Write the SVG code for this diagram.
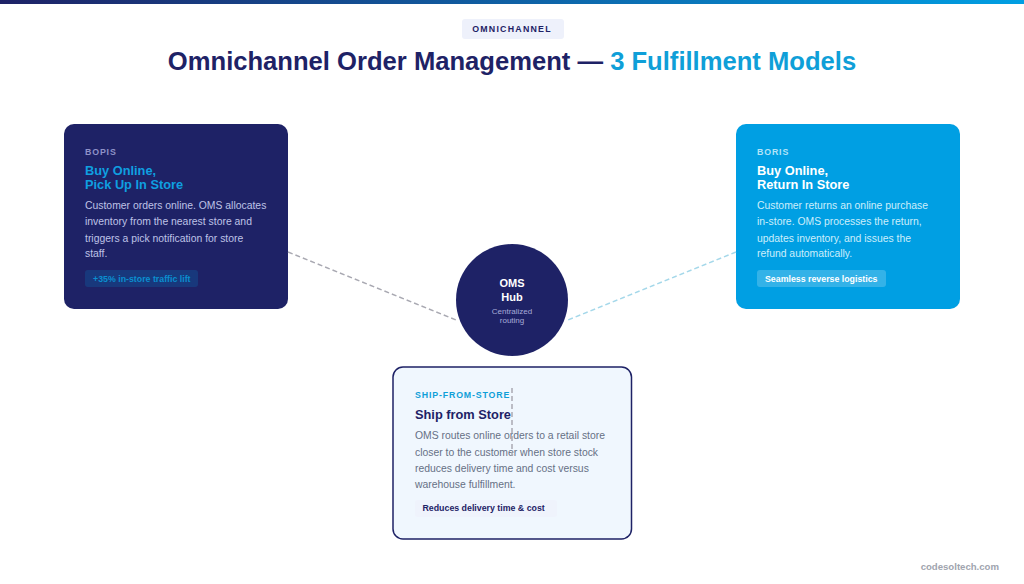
<svg xmlns="http://www.w3.org/2000/svg" width="1024" height="584" viewBox="0 0 1024 584">
<style>
text{font-family:"Liberation Sans",Arial,sans-serif}
.tag{font-size:8.800px;font-weight:700;letter-spacing:.85px}
.ttl{font-size:12.800px;font-weight:700}
.body{font-size:10.400px}
.pill{font-size:8.800px;font-weight:700}
.ln{fill:none;stroke-width:1.5;stroke-dasharray:5 3}
</style>
<defs><linearGradient id="bar" x1="0" x2="1" y1="0" y2="0"><stop offset="0" stop-color="#1e2266"/><stop offset="1" stop-color="#009fe3"/></linearGradient></defs>
<rect width="1024" height="584" fill="#fff"/>
<rect width="1024" height="4" fill="url(#bar)"/>
<g id="header">
<rect x="462" y="19" width="102" height="20" rx="3" fill="#eef1fb"/>
<text x="512" y="31.500" text-anchor="middle" font-size="8.800" font-weight="700" letter-spacing="1.250" fill="#1e2266">OMNICHANNEL</text>
<text x="512" y="70" text-anchor="middle" font-size="25.600" font-weight="700" fill="#1e2266">Omnichannel Order Management — <tspan fill="#0f9fd8">3 Fulfillment Models</tspan></text>
</g>
<g id="bopis">
<rect x="64" y="124" width="224" height="185" rx="10" fill="#1e2266"/>
<text class="tag" x="85" y="154.500" fill="#8f92c8">BOPIS</text>
<text class="ttl" x="85" y="175" fill="#0f9fe0">Buy Online,</text>
<text class="ttl" x="85" y="189" fill="#0f9fe0">Pick Up In Store</text>
<g class="body" fill="#bfc3e6">
<text x="85" y="209">Customer orders online. OMS allocates</text>
<text x="85" y="225">inventory from the nearest store and</text>
<text x="85" y="241.500">triggers a pick notification for store</text>
<text x="85" y="257">staff.</text>
</g>
<rect x="85" y="270" width="113" height="17" rx="3" fill="#009fe3" fill-opacity=".18"/>
<text class="pill" x="93" y="281.500" fill="#0a8fd0">+35% in-store traffic lift</text>
</g>
<g id="boris">
<rect x="736" y="124" width="224" height="185" rx="10" fill="#009fe3"/>
<text class="tag" x="757" y="154.500" fill="#b3e3f8">BORIS</text>
<text class="ttl" x="757" y="175" fill="#fff">Buy Online,</text>
<text class="ttl" x="757" y="189" fill="#fff">Return In Store</text>
<g class="body" fill="#cceefb">
<text x="757" y="209">Customer returns an online purchase</text>
<text x="757" y="225">in-store. OMS processes the return,</text>
<text x="757" y="241.500">updates inventory, and issues the</text>
<text x="757" y="257">refund automatically.</text>
</g>
<rect x="757" y="270" width="129" height="17" rx="3" fill="#fff" fill-opacity=".2"/>
<text class="pill" x="765" y="281.500" fill="#fff">Seamless reverse logistics</text>
</g>
<g id="ship-from-store">
<rect x="393" y="367" width="238.500" height="172" rx="10" fill="#f0f7fe" stroke="#1e2266" stroke-width="1.500"/>
<text class="tag" x="415" y="398" fill="#0f9fd8">SHIP-FROM-STORE</text>
<text class="ttl" x="415" y="419" fill="#1e2266">Ship from Store</text>
<g class="body" fill="#667085">
<text x="415" y="439">OMS routes online orders to a retail store</text>
<text x="415" y="456">closer to the customer when store stock</text>
<text x="415" y="472">reduces delivery time and cost versus</text>
<text x="415" y="488">warehouse fulfillment.</text>
</g>
<rect x="415" y="500" width="142" height="17" rx="3" fill="#eef1fb" fill-opacity=".7"/>
<text class="pill" x="422.500" y="511" fill="#1e2266">Reduces delivery time &amp; cost</text>
</g>
<g id="connectors">
<line class="ln" x1="288" y1="252" x2="456" y2="320" stroke="#a9a9b2"/>
<line class="ln" x1="736" y1="252" x2="568" y2="320" stroke="#a5d8ea"/>
<line class="ln" x1="512" y1="388" x2="512" y2="456" stroke="#a9a9b2"/>
</g>
<g id="oms-hub">
<circle cx="512" cy="300" r="56" fill="#1e2266"/>
<text x="512" y="287" text-anchor="middle" font-size="11" font-weight="700" fill="#fff">OMS</text>
<text x="512" y="300.500" text-anchor="middle" font-size="11" font-weight="700" fill="#fff">Hub</text>
<text x="512" y="314" text-anchor="middle" font-size="8" fill="#a7aad8">Centralized</text>
<text x="512" y="322.500" text-anchor="middle" font-size="8" fill="#a7aad8">routing</text>
</g>
<text x="999" y="570" text-anchor="end" font-size="9.600" font-weight="700" fill="#a0a4ae">codesoltech.com</text>
</svg>
